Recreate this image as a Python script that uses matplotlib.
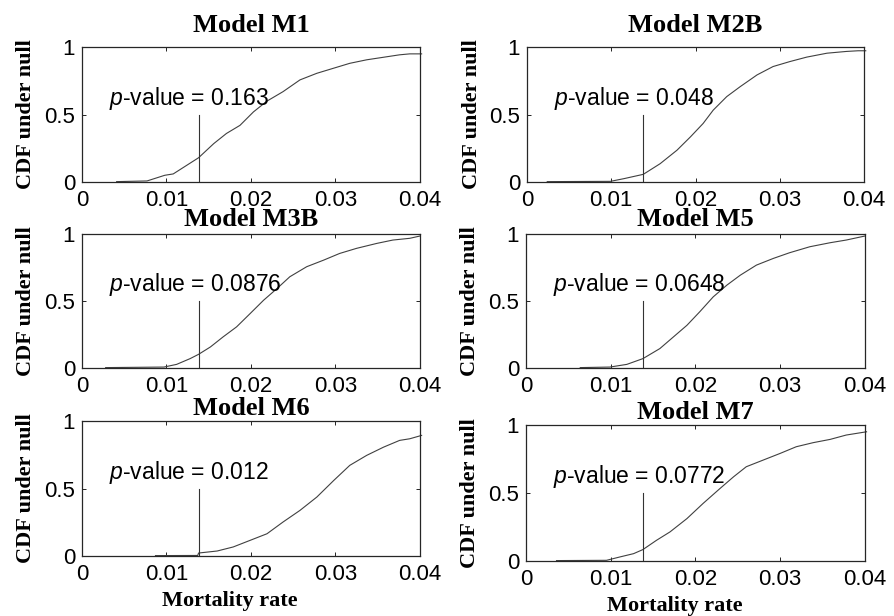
import numpy as np
import matplotlib.pyplot as plt

plt.rcParams['font.family'] = 'Liberation Sans'
plt.rcParams['mathtext.fontset'] = 'custom'
plt.rcParams['mathtext.rm'] = 'Liberation Sans'
plt.rcParams['mathtext.it'] = 'Liberation Sans:italic'

# null CDF curves
x_m1 = [0.0041, 0.0077, 0.0098, 0.0108, 0.0124, 0.0138, 0.0156, 0.0171, 0.0187, 0.0203,
        0.0219, 0.0238, 0.0258, 0.0278, 0.0298, 0.0317, 0.0337, 0.0357, 0.0376, 0.0388, 0.0402]
y_m1 = [0.003, 0.008, 0.05, 0.06, 0.124, 0.18, 0.285, 0.36, 0.42, 0.52,
        0.60, 0.67, 0.757, 0.806, 0.844, 0.88, 0.906, 0.925, 0.943, 0.95, 0.95]

x_m2b = [0.0024, 0.0099, 0.0115, 0.0138, 0.0158, 0.0178, 0.0194, 0.0209, 0.0221, 0.0237,
         0.0253, 0.0273, 0.0292, 0.0312, 0.0332, 0.0356, 0.0379, 0.0393, 0.0402]
y_m2b = [0.003, 0.005, 0.025, 0.057, 0.136, 0.236, 0.335, 0.434, 0.533, 0.633,
         0.707, 0.794, 0.856, 0.893, 0.926, 0.955, 0.968, 0.973, 0.973]

x_m3b = [0.0028, 0.0097, 0.0112, 0.0128, 0.0138, 0.0152, 0.0167, 0.0183, 0.0199, 0.0215,
         0.0231, 0.0246, 0.0266, 0.0286, 0.0305, 0.0325, 0.0349, 0.0368, 0.0388, 0.0400]
y_m3b = [0.003, 0.007, 0.027, 0.07, 0.102, 0.157, 0.232, 0.307, 0.406, 0.506,
         0.594, 0.681, 0.756, 0.805, 0.855, 0.893, 0.93, 0.955, 0.968, 0.985]

x_m5 = [0.0064, 0.0099, 0.0119, 0.0138, 0.0158, 0.0174, 0.0190, 0.0205, 0.0221, 0.0237,
        0.0253, 0.0272, 0.0292, 0.0311, 0.0335, 0.0359, 0.0378, 0.0400]
y_m5 = [0.003, 0.007, 0.027, 0.07, 0.145, 0.232, 0.319, 0.419, 0.531, 0.618,
        0.693, 0.768, 0.818, 0.86, 0.905, 0.935, 0.955, 0.985]

x_m6 = [0.0087, 0.0137, 0.0138, 0.0160, 0.0179, 0.0199, 0.0219, 0.0238, 0.0258, 0.0278,
        0.0298, 0.0317, 0.0337, 0.0357, 0.0376, 0.0388, 0.0402]
y_m6 = [0.003, 0.004, 0.022, 0.037, 0.067, 0.116, 0.165, 0.252, 0.338, 0.437,
        0.56, 0.672, 0.746, 0.807, 0.857, 0.869, 0.894]

x_m7 = [0.0036, 0.0095, 0.0111, 0.0127, 0.0138, 0.0154, 0.0170, 0.0190, 0.0209, 0.0229,
        0.0245, 0.0260, 0.0280, 0.0300, 0.0319, 0.0339, 0.0359, 0.0378, 0.0402]
y_m7 = [0.003, 0.005, 0.03, 0.054, 0.084, 0.152, 0.214, 0.312, 0.423, 0.533,
        0.619, 0.693, 0.742, 0.791, 0.84, 0.87, 0.894, 0.926, 0.95]

titles = ['Model M1', 'Model M2B', 'Model M3B', 'Model M5', 'Model M6', 'Model M7']
pvalues = ['0.163', '0.048', '0.0876', '0.0648', '0.012', '0.0772']
observed = 0.0138
xticks = [0, 0.01, 0.02, 0.03, 0.04]
xticklabels = ['0', '0.01', '0.02', '0.03', '0.04']
yticks = [0, 0.5, 1]
yticklabels = ['0', '0.5', '1']

curves = [(x_m1, y_m1), (x_m2b, y_m2b), (x_m3b, y_m3b),
          (x_m5, y_m5), (x_m6, y_m6), (x_m7, y_m7)]

# axes boxes in figure fraction (left, bottom, width, height)
boxes = [(0.0917, 0.7045, 0.378, 0.219), (0.5895, 0.7045, 0.377, 0.219),
         (0.0917, 0.4026, 0.378, 0.2175), (0.5884, 0.4026, 0.379, 0.2175),
         (0.0917, 0.0974, 0.378, 0.219), (0.5884, 0.0893, 0.379, 0.2208)]
title_pads = [11, 11, 6, 6, 4.5, 4.5]

fig = plt.figure(figsize=(8.94, 6.16), dpi=100)

for i in range(6):
    ax = fig.add_axes(boxes[i])
    xs, ys = curves[i]
    ax.plot(xs, ys, color='0.25', lw=0.8, clip_on=False)
    ax.plot([observed, observed], [0, 0.5], color='0.2', lw=0.8)
    ax.text(0.0032, 0.62, '$p$-value = ' + pvalues[i], fontsize=16.5, va='center', ha='left')
    ax.set_xlim(0, 0.04)
    ax.set_ylim(0, 1)
    ax.set_xticks(xticks)
    ax.set_xticklabels(xticklabels)
    ax.set_yticks(yticks)
    ax.set_yticklabels(yticklabels)
    ax.tick_params(direction='in', top=True, right=True, length=3, width=0.6,
                   labelsize=16)
    ax.tick_params(axis='x', pad=5.5)
    ax.tick_params(axis='y', pad=5)
    for s in ax.spines.values():
        s.set_linewidth(0.9)
        s.set_color('0.15')
    ax.set_title(titles[i], fontsize=19, fontweight='bold', family='Liberation Serif',
                 pad=title_pads[i])
    ax.set_ylabel('CDF under null', fontsize=16, fontweight='bold',
                  family='Liberation Serif')
    ax.yaxis.set_label_coords(-0.135, 0.5)
    if i >= 4:
        ax.set_xlabel('Mortality rate', fontsize=16, fontweight='bold',
                      family='Liberation Serif')
        ax.xaxis.set_label_coords(0.438, -0.26)

fig.savefig('out.png', dpi=100)
